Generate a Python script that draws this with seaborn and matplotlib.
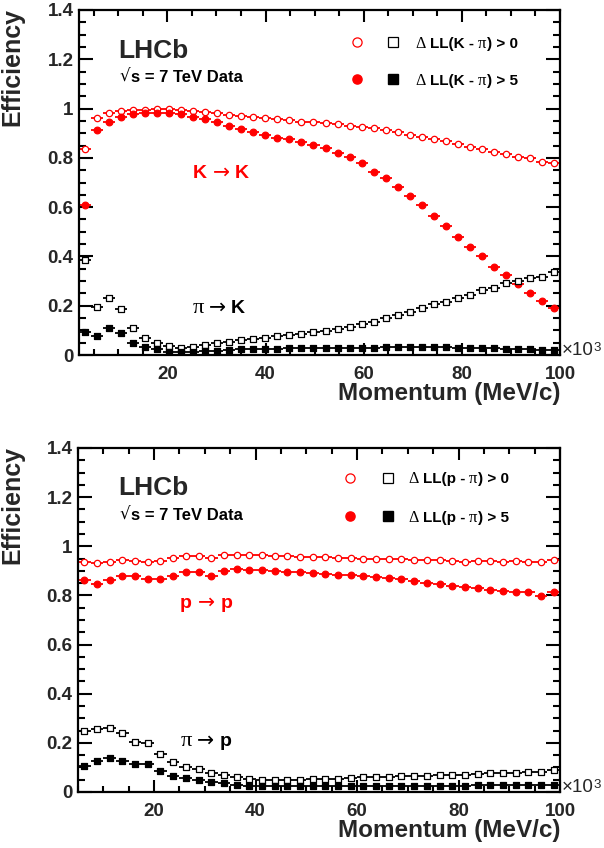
import matplotlib
matplotlib.use("Agg")
import matplotlib.pyplot as plt
import seaborn as sns
from matplotlib.ticker import MultipleLocator, FuncFormatter

# ---------------- data (momentum in units of 10^3 MeV/c) ----------------
top_x = [3.225, 5.675, 8.125, 10.575, 13.025, 15.475, 17.925, 20.375, 22.825, 25.275,
         27.725, 30.175, 32.625, 35.075, 37.525, 39.975, 42.425, 44.875, 47.325, 49.775,
         52.225, 54.675, 57.125, 59.575, 62.025, 64.475, 66.925, 69.375, 71.825, 74.275,
         76.725, 79.175, 81.625, 84.075, 86.525, 88.975, 91.425, 93.875, 96.325, 98.775]
top_halfbin = 1.225

kk_dll0 = [0.836, 0.963, 0.981, 0.991, 0.994, 0.994, 0.998, 0.998, 0.994, 0.990,
           0.985, 0.981, 0.974, 0.970, 0.965, 0.961, 0.958, 0.954, 0.947, 0.945,
           0.942, 0.936, 0.931, 0.924, 0.920, 0.913, 0.904, 0.894, 0.886, 0.877,
           0.867, 0.856, 0.845, 0.836, 0.824, 0.814, 0.805, 0.798, 0.782, 0.778]
kk_dll5 = [0.609, 0.913, 0.946, 0.967, 0.977, 0.981, 0.981, 0.981, 0.977, 0.967,
           0.958, 0.947, 0.929, 0.917, 0.906, 0.893, 0.882, 0.877, 0.866, 0.852,
           0.839, 0.821, 0.805, 0.778, 0.744, 0.717, 0.683, 0.646, 0.609, 0.565,
           0.524, 0.480, 0.440, 0.402, 0.359, 0.325, 0.288, 0.253, 0.220, 0.192]
pik_dll0 = [0.386, 0.196, 0.230, 0.187, 0.111, 0.070, 0.047, 0.036, 0.030, 0.034,
            0.041, 0.047, 0.051, 0.061, 0.065, 0.070, 0.077, 0.081, 0.085, 0.092,
            0.099, 0.106, 0.115, 0.126, 0.135, 0.149, 0.162, 0.173, 0.192, 0.206,
            0.216, 0.233, 0.244, 0.264, 0.273, 0.291, 0.302, 0.311, 0.318, 0.336]
pik_dll5 = [0.095, 0.078, 0.108, 0.088, 0.050, 0.034, 0.023, 0.014, 0.014, 0.014,
            0.016, 0.018, 0.020, 0.023, 0.025, 0.025, 0.026, 0.027, 0.027, 0.027,
            0.027, 0.029, 0.030, 0.030, 0.030, 0.034, 0.034, 0.034, 0.034, 0.034,
            0.034, 0.030, 0.030, 0.029, 0.027, 0.024, 0.023, 0.023, 0.020, 0.020]

bot_x = [6.25, 8.75, 11.25, 13.75, 16.25, 18.75, 21.25, 23.75, 26.25, 28.75,
         31.25, 33.75, 36.25, 38.75, 41.25, 43.75, 46.25, 48.75, 51.25, 53.75,
         56.25, 58.75, 61.25, 63.75, 66.25, 68.75, 71.25, 73.75, 76.25, 78.75,
         81.25, 83.75, 86.25, 88.75, 91.25, 93.75, 96.25, 98.75]
bot_halfbin = 1.25

pp_dll0 = [0.937, 0.933, 0.937, 0.944, 0.940, 0.935, 0.940, 0.951, 0.961, 0.961,
           0.954, 0.963, 0.963, 0.963, 0.963, 0.959, 0.959, 0.958, 0.955, 0.955,
           0.953, 0.952, 0.948, 0.948, 0.948, 0.947, 0.944, 0.944, 0.944, 0.940,
           0.937, 0.940, 0.940, 0.937, 0.940, 0.937, 0.937, 0.944]
pp_dll5 = [0.863, 0.847, 0.863, 0.880, 0.879, 0.867, 0.867, 0.880, 0.894, 0.894,
           0.880, 0.899, 0.908, 0.904, 0.904, 0.901, 0.897, 0.894, 0.890, 0.887,
           0.885, 0.883, 0.879, 0.876, 0.870, 0.866, 0.859, 0.849, 0.845, 0.840,
           0.836, 0.832, 0.822, 0.818, 0.813, 0.813, 0.798, 0.813]
pip_dll0 = [0.248, 0.256, 0.259, 0.239, 0.205, 0.198, 0.153, 0.121, 0.103, 0.094,
            0.076, 0.069, 0.062, 0.053, 0.049, 0.049, 0.049, 0.049, 0.051, 0.052,
            0.054, 0.057, 0.062, 0.062, 0.062, 0.065, 0.066, 0.066, 0.069, 0.069,
            0.069, 0.073, 0.076, 0.076, 0.079, 0.080, 0.083, 0.090]
pip_dll5 = [0.107, 0.128, 0.137, 0.126, 0.113, 0.113, 0.085, 0.066, 0.056, 0.049,
            0.039, 0.035, 0.028, 0.026, 0.024, 0.024, 0.024, 0.024, 0.024, 0.026,
            0.026, 0.026, 0.026, 0.026, 0.026, 0.026, 0.026, 0.026, 0.026, 0.026,
            0.026, 0.027, 0.027, 0.027, 0.030, 0.027, 0.028, 0.030]

RED = "#ff0000"
BLK = "#000000"
SANS = ['Liberation Sans', 'DejaVu Sans']
SYM = ['Liberation Serif', 'DejaVu Serif']
ARR = ['DejaVu Sans']

sns.set_theme(style="ticks")
plt.rcParams['font.family'] = SANS
plt.rcParams['font.weight'] = 'bold'

fig = plt.figure(figsize=(6.04, 8.48), dpi=100)
W, H = 604.0, 848.0
ax1 = fig.add_axes([79 / W, 1 - 355 / H, 481 / W, 345 / H])
ax2 = fig.add_axes([78 / W, 1 - 792 / H, 482 / W, 344 / H])


def rich(ax, x, y, pieces, size, color='black'):
    """Chain text pieces (text, weight, family, gap_pts, size_scale) on one baseline."""
    prev = None
    for txt, weight, fam, gap, sc in pieces:
        if prev is None:
            prev = ax.text(x, y, txt, transform=ax.transAxes, fontsize=size * sc,
                           fontweight=weight, family=fam, color=color,
                           ha='left', va='baseline')
        else:
            prev = ax.annotate(txt, xy=(1, y), xycoords=(prev, ax.transAxes),
                               xytext=(gap, 0), textcoords='offset points',
                               fontsize=size * sc, fontweight=weight, family=fam,
                               color=color, ha='left', va='baseline')
    return prev


def series(ax, x, y, half, color, marker, filled, size):
    ax.errorbar(x, y, xerr=half, yerr=0.006, fmt='none', ecolor=color,
                elinewidth=1.3, capsize=0, zorder=2)
    sns.scatterplot(x=x, y=y, ax=ax, marker=marker, s=size,
                    color=(color if filled else "white"), edgecolor=color,
                    linewidth=0.9, zorder=3, legend=False)


def style_axes(ax, xmin):
    ax.set_xlim(xmin, 100)
    ax.set_ylim(0, 1.4)
    ax.xaxis.set_major_locator(MultipleLocator(20))
    ax.xaxis.set_minor_locator(MultipleLocator(5))
    ax.yaxis.set_major_locator(MultipleLocator(0.2))
    ax.yaxis.set_minor_locator(MultipleLocator(0.05))
    ax.yaxis.set_major_formatter(FuncFormatter(lambda v, p: "%g" % round(v, 2)))
    ax.xaxis.set_major_formatter(FuncFormatter(lambda v, p: "%g" % v))
    for sp in ax.spines.values():
        sp.set_visible(True)
        sp.set_linewidth(1.6)
        sp.set_color("black")
    ax.tick_params(axis='both', which='both', direction='in', top=True, right=True,
                   width=1.5, color='black')
    ax.tick_params(axis='y', which='major', length=10, pad=4, labelsize=13.5)
    ax.tick_params(axis='y', which='minor', length=5)
    ax.tick_params(axis='x', which='major', length=8.5, pad=8, labelsize=13.5)
    ax.tick_params(axis='x', which='minor', length=4.3)
    for lab in ax.get_xticklabels() + ax.get_yticklabels():
        lab.set_fontweight('bold')
    ax.set_xlabel("")
    ax.set_ylabel("")
    ax.set_facecolor("white")
    ax.grid(False)
    t = ax.text(1.003, 0.0, "×10", transform=ax.transAxes, fontsize=13.5,
                fontweight='normal', ha='left', va='baseline')
    ax.annotate("3", xy=(1, 1), xycoords=t, xytext=(0.3, 0), textcoords='offset points',
                fontsize=9.5, fontweight='normal', ha='left', va='top',
                annotation_clip=False)


def legend(ax, cx, sx, tx, y1, y2, part):
    kw = dict(transform=ax.transAxes, linestyle='none', clip_on=False)
    ax.plot([cx], [y1], marker='o', ms=6.6, mfc='white', mec=RED, mew=0.9, **kw)
    ax.plot([sx], [y1], marker='s', ms=6.6, mfc='white', mec=BLK, mew=0.9, **kw)
    ax.plot([cx], [y2], marker='o', ms=6.6, mfc=RED, mec=RED, **kw)
    ax.plot([sx], [y2], marker='s', ms=6.6, mfc=BLK, mec=BLK, **kw)
    for yy, cut in ((y1, "0"), (y2, "5")):
        rich(ax, tx, yy - 0.016, [("Δ", 'normal', SYM, 0, 1.05),
                                  ("LL(" + part + " -", 'bold', SANS, 3, 1.0),
                                  ("π", 'normal', SYM, 3, 1.1),
                                  (") > " + cut, 'bold', SANS, 0.3, 1.0)], 11)


# ---------------- top panel ----------------
series(ax1, top_x, kk_dll0, top_halfbin, RED, 'o', False, 21)
series(ax1, top_x, kk_dll5, top_halfbin, RED, 'o', True, 23)
series(ax1, top_x, pik_dll0, top_halfbin, BLK, 's', False, 19)
series(ax1, top_x, pik_dll5, top_halfbin, BLK, 's', True, 19)
style_axes(ax1, 2)
legend(ax1, 0.578, 0.653, 0.699, 0.907, 0.800, "K")
ax1.text(0.081, 0.861, "LHCb", transform=ax1.transAxes, fontsize=19, va='baseline')
rich(ax1, 0.085, 0.791, [("√", 'normal', ARR, 0, 1.0), ("s = 7 TeV Data", 'bold', SANS, 0, 1.0)], 12)
rich(ax1, 0.237, 0.513, [("K", 'bold', SANS, 0, 1.0), ("→", 'normal', ARR, 4, 1.05),
                         ("K", 'bold', SANS, 4, 1.0)], 14, RED)
rich(ax1, 0.237, 0.122, [("π", 'normal', SYM, 0, 1.15), ("→", 'normal', ARR, 3, 1.05),
                         ("K", 'bold', SANS, 4, 1.0)], 14, BLK)

# ---------------- bottom panel ----------------
series(ax2, bot_x, pp_dll0, bot_halfbin, RED, 'o', False, 21)
series(ax2, bot_x, pp_dll5, bot_halfbin, RED, 'o', True, 23)
series(ax2, bot_x, pip_dll0, bot_halfbin, BLK, 's', False, 19)
series(ax2, bot_x, pip_dll5, bot_halfbin, BLK, 's', True, 19)
style_axes(ax2, 5)
legend(ax2, 0.564, 0.643, 0.685, 0.913, 0.802, "p")
ax2.text(0.083, 0.863, "LHCb", transform=ax2.transAxes, fontsize=19, va='baseline')
rich(ax2, 0.087, 0.791, [("√", 'normal', ARR, 0, 1.0), ("s = 7 TeV Data", 'bold', SANS, 0, 1.0)], 12)
rich(ax2, 0.212, 0.535, [("p", 'bold', SANS, 0, 1.0), ("→", 'normal', ARR, 4, 1.05),
                         ("p", 'bold', SANS, 4, 1.0)], 14, RED)
rich(ax2, 0.214, 0.134, [("π", 'normal', SYM, 0, 1.15), ("→", 'normal', ARR, 3, 1.05),
                         ("p", 'bold', SANS, 4, 1.0)], 14, BLK)

# axis titles (ROOT style: y title at top, x title at right end)
for ytop, ycen in ((8, 394), (446, 831)):
    fig.text(12 / W, 1 - ytop / H, "Efficiency", rotation=90, fontsize=18,
             ha='center', va='top')
    fig.text(561 / W, 1 - ycen / H, "Momentum (MeV/c)", fontsize=17.5,
             ha='right', va='center')

fig.savefig("out.png", dpi=100, facecolor="white")
